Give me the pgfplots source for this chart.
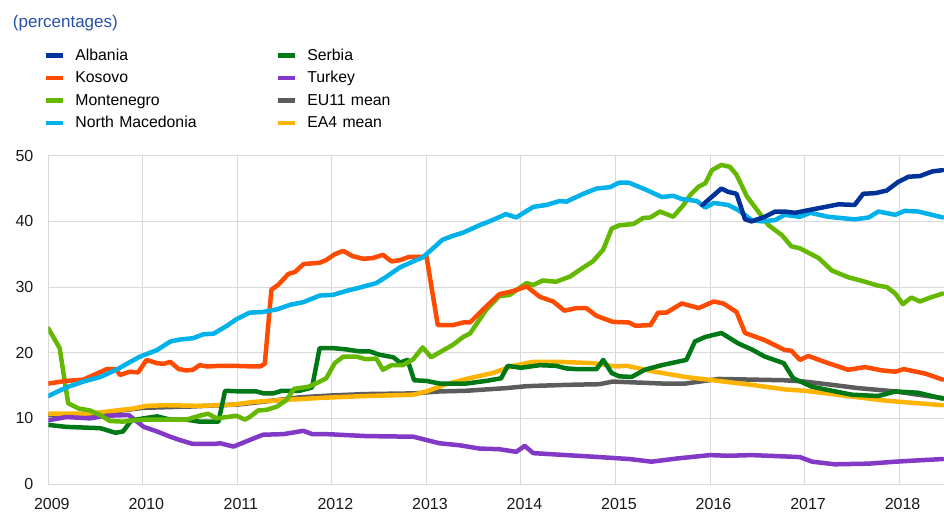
\documentclass[border=0pt]{standalone}
\usepackage{pgfplots}
\pgfplotsset{compat=1.18}
\usepackage{fontspec}
\setmainfont{Liberation Sans}
\definecolor{alb}{HTML}{003299}
\definecolor{kos}{HTML}{FF4B00}
\definecolor{mne}{HTML}{65B800}
\definecolor{mkd}{HTML}{00B1EA}
\definecolor{srb}{HTML}{007816}
\definecolor{tur}{HTML}{8139C6}
\definecolor{eu}{HTML}{5C5C5C}
\definecolor{ea}{HTML}{FFB400}
\definecolor{ttl}{HTML}{2850AA}
\begin{document}
\begin{tikzpicture}
\path[use as bounding box] (-48.3pt,-28pt) rectangle (895.7pt,484pt);
\begin{axis}[
  at={(0pt,0pt)}, anchor=south west,
  scale only axis, width=895.7pt, height=328.3pt,
  xmin=2009, xmax=2018.475, ymin=0, ymax=50,
  xtick={2009,2010,...,2018}, ytick={0,10,...,50},
  xticklabels={2009,2010,2011,2012,2013,2014,2015,2016,2017,2018},
  major tick length=0pt,
  axis x line*=bottom, axis y line*=left, axis line style={draw=none},
  grid=major, major grid style={color=black!15, line width=1pt},
  /pgf/number format/assume math mode=true,
  tick label style={font=\fontsize{16}{19}\selectfont, text=black!90},
  xticklabel style={anchor=center, inner sep=0pt, yshift=-19.5pt, xshift=3.5pt},
  yticklabel style={anchor=east, inner sep=0pt, xshift=-14.8pt},
  every axis plot/.append style={line width=4.5pt, line join=round, line cap=round},
  clip mode=individual,
  legend columns=2,
  legend cell align=left,
  legend style={draw=none, fill=none, inner sep=0pt, outer sep=0pt,
    at={(axis description cs:-0.0055,1.3274)}, anchor=north west,
    font=\fontsize{15.8}{18}\selectfont, row sep=0pt,
    nodes={inner sep=0pt, text width=200pt, text height=12pt, text depth=10.5pt},
    /tikz/every odd column/.style={column sep=10pt},
    /tikz/every even column/.style={column sep=0pt}},
  legend image code/.code={\draw[line width=4.7pt, line cap=butt] (0pt,4pt) -- (17.3pt,4pt);},
]
\addlegendimage{alb}\addlegendentry{Albania}
\addlegendimage{srb}\addlegendentry{Serbia}
\addlegendimage{kos}\addlegendentry{Kosovo}
\addlegendimage{tur}\addlegendentry{Turkey}
\addlegendimage{mne}\addlegendentry{Montenegro}
\addlegendimage{eu}\addlegendentry{EU11 mean}
\addlegendimage{mkd}\addlegendentry{North Macedonia}
\addlegendimage{ea}\addlegendentry{EA4 mean}

% EU11 mean
\addplot[eu, forget plot] coordinates {(2009.0,10.5)(2009.5,10.7)(2010.0,11.6)(2010.5,11.8)(2011.0,12.1)(2011.5,12.9)(2011.66,13.2)(2012.01,13.5)(2012.36,13.7)(2012.86,13.8)(2013.14,14.1)(2013.42,14.2)(2013.84,14.6)(2014.06,14.9)(2014.48,15.1)(2014.83,15.2)(2014.97,15.6)(2015.15,15.5)(2015.5,15.3)(2015.74,15.3)(2016.09,16.0)(2016.44,15.9)(2016.79,15.8)(2017.0,15.6)(2017.29,15.1)(2017.57,14.6)(2017.96,14.1)(2018.20,13.6)(2018.46,13.1)};
% EA4 mean
\addplot[ea, forget plot] coordinates {(2009.0,10.7)(2009.37,10.7)(2009.55,10.9)(2009.72,11.2)(2009.90,11.5)(2010.04,11.9)(2010.25,12.0)(2010.6,11.9)(2010.96,12.1)(2011.17,12.5)(2011.49,12.8)(2011.87,13.1)(2012.01,13.2)(2012.36,13.4)(2012.86,13.6)(2013.0,14.1)(2013.21,15.2)(2013.42,16.0)(2013.70,16.9)(2013.92,18.0)(2014.13,18.6)(2014.41,18.6)(2014.76,18.4)(2015.01,17.9)(2015.12,18.0)(2015.38,17.2)(2015.74,16.3)(2016.09,15.7)(2016.44,15.1)(2016.79,14.4)(2017.0,14.2)(2017.29,13.7)(2017.57,13.2)(2017.85,12.7)(2018.20,12.3)(2018.46,12.0)};
% Turkey
\addplot[tur, forget plot] coordinates {(2009.0,9.7)(2009.19,10.2)(2009.44,10.0)(2009.62,10.4)(2009.85,10.5)(2010.01,8.7)(2010.15,8.0)(2010.29,7.2)(2010.39,6.7)(2010.53,6.1)(2010.75,6.1)(2010.82,6.2)(2010.96,5.7)(2011.13,6.7)(2011.27,7.5)(2011.49,7.6)(2011.70,8.1)(2011.79,7.6)(2011.94,7.6)(2012.36,7.3)(2012.86,7.2)(2013.0,6.7)(2013.14,6.2)(2013.35,5.9)(2013.56,5.4)(2013.77,5.3)(2013.95,4.9)(2014.04,5.8)(2014.13,4.7)(2014.48,4.4)(2014.83,4.1)(2015.15,3.8)(2015.38,3.4)(2015.66,3.9)(2016.0,4.4)(2016.19,4.3)(2016.44,4.4)(2016.79,4.2)(2016.95,4.1)(2017.08,3.4)(2017.32,3.0)(2017.68,3.1)(2017.96,3.4)(2018.20,3.6)(2018.46,3.8)};
% Serbia
\addplot[srb, forget plot] coordinates {(2009.0,9.0)(2009.19,8.7)(2009.37,8.6)(2009.55,8.5)(2009.62,8.2)(2009.71,7.8)(2009.79,8.0)(2009.88,9.7)(2010.01,10.0)(2010.15,10.3)(2010.29,9.8)(2010.46,9.8)(2010.60,9.5)(2010.80,9.5)(2010.87,14.2)(2011.03,14.1)(2011.20,14.1)(2011.28,13.8)(2011.38,13.8)(2011.47,14.2)(2011.66,14.2)(2011.79,14.7)(2011.87,20.7)(2012.01,20.7)(2012.15,20.5)(2012.29,20.2)(2012.40,20.2)(2012.50,19.7)(2012.65,19.3)(2012.72,18.5)(2012.80,18.9)(2012.87,15.8)(2013.00,15.7)(2013.14,15.3)(2013.42,15.3)(2013.63,15.7)(2013.79,16.1)(2013.86,18.0)(2014.00,17.7)(2014.20,18.1)(2014.37,18.0)(2014.48,17.6)(2014.59,17.5)(2014.80,17.5)(2014.87,18.9)(2014.96,16.9)(2015.04,16.4)(2015.17,16.3)(2015.31,17.4)(2015.49,18.1)(2015.65,18.6)(2015.75,18.9)(2015.84,21.7)(2015.95,22.4)(2016.12,23.0)(2016.30,21.4)(2016.44,20.5)(2016.58,19.4)(2016.78,18.4)(2016.88,16.1)(2017.08,14.8)(2017.29,14.2)(2017.50,13.6)(2017.78,13.4)(2017.96,14.1)(2018.20,13.9)(2018.46,13.0)};
% Montenegro
\addplot[mne, forget plot] coordinates {(2009.0,23.7)(2009.12,20.7)(2009.21,12.3)(2009.32,11.5)(2009.44,11.2)(2009.55,10.5)(2009.65,9.6)(2009.79,9.5)(2009.90,9.7)(2010.04,9.8)(2010.25,9.8)(2010.46,9.8)(2010.60,10.4)(2010.69,10.7)(2010.78,10.0)(2010.89,10.2)(2010.99,10.4)(2011.08,9.8)(2011.13,10.2)(2011.22,11.2)(2011.31,11.3)(2011.42,11.8)(2011.52,12.8)(2011.60,14.5)(2011.75,14.8)(2011.83,15.3)(2011.94,16.1)(2012.03,18.4)(2012.12,19.4)(2012.26,19.4)(2012.36,19.0)(2012.47,19.1)(2012.54,17.4)(2012.63,18.1)(2012.75,18.1)(2012.86,19.0)(2012.96,20.8)(2013.05,19.3)(2013.17,20.3)(2013.28,21.2)(2013.39,22.4)(2013.46,22.9)(2013.63,26.5)(2013.77,28.6)(2013.88,28.8)(2014.06,30.6)(2014.13,30.3)(2014.23,31.0)(2014.37,30.8)(2014.52,31.6)(2014.64,32.8)(2014.76,33.9)(2014.87,35.7)(2014.96,38.9)(2015.04,39.4)(2015.19,39.6)(2015.29,40.5)(2015.37,40.6)(2015.47,41.5)(2015.61,40.7)(2015.72,42.5)(2015.79,44.0)(2015.88,45.3)(2015.95,45.8)(2016.02,47.8)(2016.12,48.6)(2016.21,48.3)(2016.28,47.1)(2016.39,43.8)(2016.51,41.5)(2016.62,39.4)(2016.76,37.9)(2016.86,36.2)(2016.95,35.9)(2017.15,34.4)(2017.29,32.5)(2017.46,31.5)(2017.64,30.8)(2017.78,30.2)(2017.87,30.0)(2017.96,29.0)(2018.04,27.4)(2018.13,28.4)(2018.22,27.8)(2018.33,28.4)(2018.46,29.0)};
% Kosovo
\addplot[kos, forget plot] coordinates {(2009.0,15.3)(2009.19,15.7)(2009.37,15.9)(2009.48,16.6)(2009.62,17.5)(2009.71,17.5)(2009.76,16.6)(2009.86,17.1)(2009.95,17.0)(2010.04,18.9)(2010.15,18.4)(2010.22,18.3)(2010.29,18.6)(2010.38,17.5)(2010.46,17.3)(2010.53,17.4)(2010.60,18.1)(2010.68,17.9)(2010.82,18.0)(2010.96,18.0)(2011.17,17.9)(2011.24,17.9)(2011.29,18.3)(2011.36,29.6)(2011.43,30.3)(2011.54,32.0)(2011.61,32.3)(2011.70,33.5)(2011.87,33.7)(2011.94,34.1)(2012.03,35.0)(2012.12,35.5)(2012.22,34.7)(2012.33,34.3)(2012.43,34.4)(2012.54,34.9)(2012.63,33.9)(2012.72,34.1)(2012.82,34.6)(2012.96,34.6)(2013.0,34.7)(2013.12,24.2)(2013.28,24.2)(2013.39,24.6)(2013.46,24.6)(2013.63,27.0)(2013.77,28.9)(2013.92,29.4)(2014.06,30.1)(2014.20,28.5)(2014.34,27.8)(2014.46,26.4)(2014.59,26.8)(2014.69,26.8)(2014.80,25.6)(2014.97,24.7)(2015.14,24.6)(2015.21,24.1)(2015.37,24.2)(2015.45,26.1)(2015.54,26.1)(2015.70,27.5)(2015.88,26.8)(2016.04,27.8)(2016.14,27.5)(2016.28,26.2)(2016.37,23.0)(2016.58,21.9)(2016.79,20.4)(2016.86,20.3)(2016.95,18.9)(2017.04,19.5)(2017.25,18.4)(2017.46,17.4)(2017.64,17.8)(2017.82,17.3)(2017.96,17.1)(2018.05,17.5)(2018.28,16.8)(2018.46,15.9)};
% North Macedonia
\addplot[mkd, forget plot] coordinates {(2009.0,13.4)(2009.19,14.7)(2009.37,15.6)(2009.55,16.3)(2009.72,17.4)(2009.83,18.3)(2009.97,19.4)(2010.15,20.4)(2010.29,21.7)(2010.39,22.0)(2010.53,22.2)(2010.64,22.8)(2010.75,22.9)(2010.89,24.1)(2010.99,25.1)(2011.13,26.1)(2011.27,26.2)(2011.42,26.6)(2011.56,27.3)(2011.70,27.7)(2011.87,28.7)(2012.01,28.8)(2012.15,29.4)(2012.29,29.9)(2012.47,30.6)(2012.57,31.5)(2012.72,33.0)(2012.86,33.9)(2012.96,34.5)(2013.07,35.9)(2013.17,37.2)(2013.28,37.8)(2013.39,38.3)(2013.56,39.4)(2013.70,40.2)(2013.84,41.1)(2013.95,40.6)(2014.13,42.2)(2014.27,42.5)(2014.41,43.1)(2014.48,43.0)(2014.66,44.2)(2014.80,45.0)(2014.94,45.2)(2015.04,45.9)(2015.14,45.9)(2015.31,44.9)(2015.49,43.7)(2015.61,43.9)(2015.70,43.4)(2015.86,43.1)(2015.95,42.1)(2016.04,42.8)(2016.19,42.5)(2016.30,41.7)(2016.44,40.2)(2016.55,40.0)(2016.69,40.2)(2016.79,41.0)(2016.95,40.7)(2017.06,41.3)(2017.25,40.7)(2017.53,40.3)(2017.68,40.6)(2017.78,41.5)(2017.96,41.0)(2018.06,41.6)(2018.20,41.5)(2018.46,40.6)};
% Albania
\addplot[alb, forget plot] coordinates {(2015.92,42.5)(2016.04,44.0)(2016.12,45.0)(2016.19,44.5)(2016.28,44.2)(2016.37,40.3)(2016.44,40.0)(2016.58,40.7)(2016.69,41.5)(2016.79,41.5)(2016.90,41.3)(2017.04,41.7)(2017.22,42.2)(2017.36,42.6)(2017.53,42.5)(2017.62,44.2)(2017.75,44.3)(2017.87,44.7)(2017.99,46.0)(2018.10,46.8)(2018.22,46.9)(2018.35,47.6)(2018.46,47.8)};

\node[anchor=west, inner sep=0pt, text=ttl, font=\fontsize{17}{20}\selectfont] at (axis description cs:-0.0397,1.4033) {(percentages)};
\end{axis}
\end{tikzpicture}
\end{document}
